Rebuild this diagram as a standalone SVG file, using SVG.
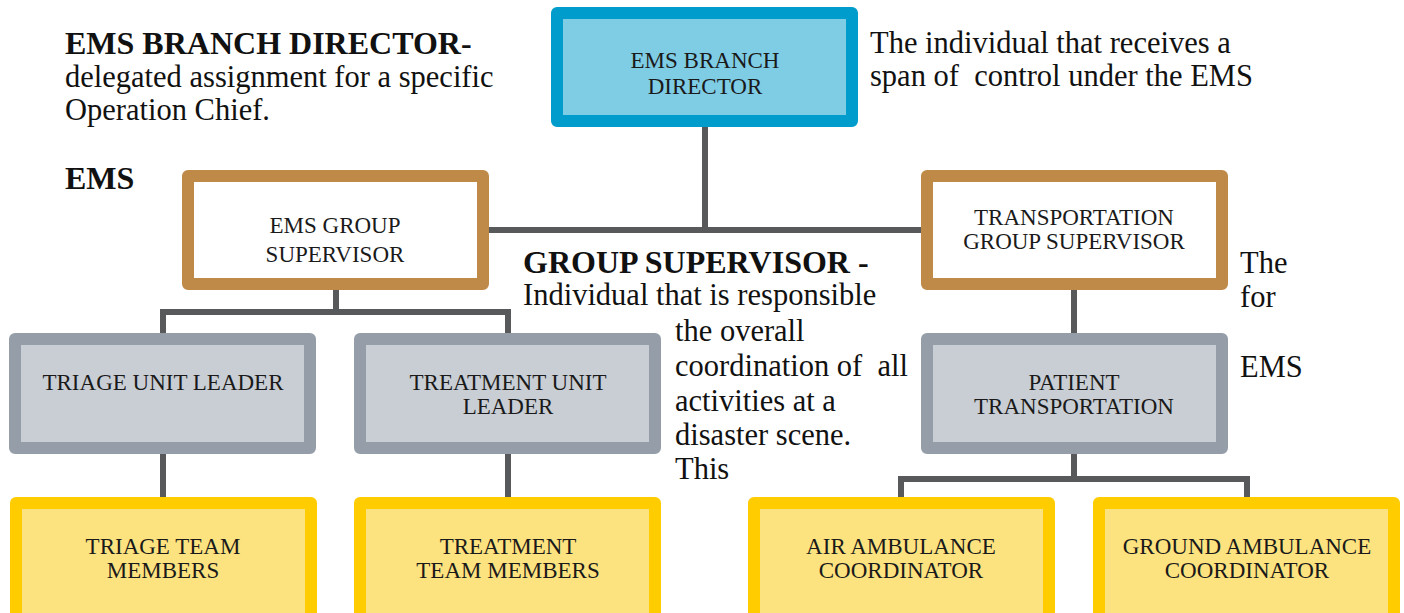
<svg xmlns="http://www.w3.org/2000/svg" width="1404" height="613" viewBox="0 0 1404 613">
  <style>
    .box { stroke-width: 12; stroke-linejoin: round; }
    .blue { fill: #7fcce5; stroke: #009dcc; }
    .brown { fill: #ffffff; stroke: #bf8a48; }
    .gray { fill: #c9ced5; stroke: #959ea8; }
    .yellow { fill: #fde37f; stroke: #ffcc00; }
    .label { font-family: "Liberation Serif", "Times New Roman", serif; font-size: 23px; fill: #1a1a1a; text-anchor: middle; }
    .note { font-family: "Liberation Serif", "Times New Roman", serif; font-size: 30.5px; fill: #111111; }
    .note-b { font-family: "Liberation Serif", "Times New Roman", serif; font-size: 32px; font-weight: bold; fill: #111111; }
    .wire { fill: none; stroke: #58595b; stroke-width: 6; }
  </style>

  <!-- connectors -->
  <g id="connectors">
    <path class="wire" d="M705 127 V230 M489 230 H921"/>
    <path class="wire" d="M336 290 V312 M163 339 V312 H508 V339"/>
    <path class="wire" d="M163 454 V497 M508 454 V497"/>
    <path class="wire" d="M1074 290 V333"/>
    <path class="wire" d="M1074 453 V479 M901 497 V479 H1247 V497"/>
  </g>

  <!-- nodes -->
  <g id="ems-branch-director">
    <rect class="box blue" x="557" y="13" width="295" height="108"/>
    <text class="label" x="705" y="68">EMS BRANCH</text>
    <text class="label" x="705" y="94">DIRECTOR</text>
  </g>

  <g id="ems-group-supervisor">
    <rect class="box brown" x="188" y="176" width="295" height="108"/>
    <text class="label" x="335" y="233">EMS GROUP</text>
    <text class="label" x="335" y="262">SUPERVISOR</text>
  </g>

  <g id="transportation-group-supervisor">
    <rect class="box brown" x="927" y="176" width="295" height="108"/>
    <text class="label" x="1074" y="225">TRANSPORTATION</text>
    <text class="label" x="1074" y="249">GROUP SUPERVISOR</text>
  </g>

  <g id="triage-unit-leader">
    <rect class="box gray" x="15" y="339" width="295" height="109"/>
    <text class="label" x="163" y="390">TRIAGE UNIT LEADER</text>
  </g>

  <g id="treatment-unit-leader">
    <rect class="box gray" x="360" y="339" width="295" height="109"/>
    <text class="label" x="508" y="390">TREATMENT UNIT</text>
    <text class="label" x="508" y="414">LEADER</text>
  </g>

  <g id="patient-transportation">
    <rect class="box gray" x="927" y="339" width="295" height="109"/>
    <text class="label" x="1074" y="390">PATIENT</text>
    <text class="label" x="1074" y="414">TRANSPORTATION</text>
  </g>

  <g id="triage-team-members">
    <rect class="box yellow" x="16" y="503" width="295" height="120"/>
    <text class="label" x="163" y="554">TRIAGE TEAM</text>
    <text class="label" x="163" y="578">MEMBERS</text>
  </g>

  <g id="treatment-team-members">
    <rect class="box yellow" x="360" y="503" width="295" height="120"/>
    <text class="label" x="508" y="554">TREATMENT</text>
    <text class="label" x="508" y="578">TEAM MEMBERS</text>
  </g>

  <g id="air-ambulance-coordinator">
    <rect class="box yellow" x="754" y="503" width="295" height="120"/>
    <text class="label" x="901" y="554">AIR AMBULANCE</text>
    <text class="label" x="901" y="578">COORDINATOR</text>
  </g>

  <g id="ground-ambulance-coordinator">
    <rect class="box yellow" x="1099" y="503" width="295" height="120"/>
    <text class="label" x="1247" y="554">GROUND AMBULANCE</text>
    <text class="label" x="1247" y="578">COORDINATOR</text>
  </g>

  <!-- explanatory notes -->
  <g id="notes">
    <text class="note-b" x="65" y="54">EMS BRANCH DIRECTOR-</text>
    <text class="note" x="65" y="87">delegated assignment for a specific</text>
    <text class="note" x="65" y="120">Operation Chief.</text>
    <text class="note-b" x="65" y="189">EMS</text>

    <text class="note" x="870" y="53">The individual that receives a</text>
    <text class="note" x="870" y="86" xml:space="preserve">span of  control under the EMS</text>

    <text class="note-b" x="523" y="273">GROUP SUPERVISOR -</text>
    <text class="note" x="523" y="305">Individual that is responsible</text>
    <text class="note" x="675" y="341">the overall</text>
    <text class="note" x="675" y="376" xml:space="preserve">coordination of  all</text>
    <text class="note" x="675" y="411">activities at a</text>
    <text class="note" x="675" y="445">disaster scene.</text>
    <text class="note" x="675" y="479">This</text>

    <text class="note" x="1240" y="273">The</text>
    <text class="note" x="1240" y="307">for</text>
    <text class="note" x="1240" y="377">EMS</text>
  </g>
</svg>
